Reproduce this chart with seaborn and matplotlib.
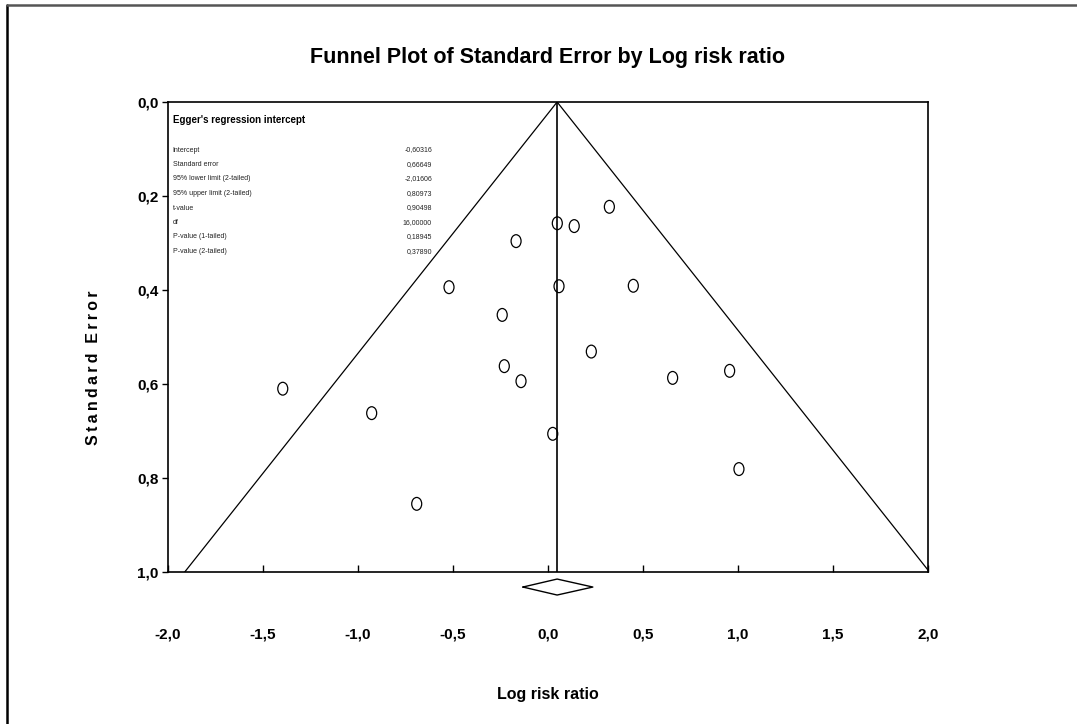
import numpy as np
import pandas as pd
import matplotlib
matplotlib.use("Agg")
import matplotlib.pyplot as plt
import seaborn as sns
from matplotlib.path import Path
from matplotlib.transforms import Affine2D
from matplotlib.lines import Line2D

# ---- data ----
log_rr = [0.323, 0.049, 0.138, -0.168, -0.521, 0.058, 0.449, -0.241, 0.228,
          -0.230, -0.142, 0.656, 0.956, -1.396, -0.928, 0.025, 1.005, -0.691]
std_err = [0.223, 0.258, 0.264, 0.296, 0.394, 0.392, 0.391, 0.453, 0.531,
           0.562, 0.594, 0.587, 0.572, 0.610, 0.662, 0.706, 0.781, 0.855]
pooled = 0.048
pooled_low = -0.132
pooled_high = 0.236

x_ticks = [-2.0, -1.5, -1.0, -0.5, 0.0, 0.5, 1.0, 1.5, 2.0]
x_tick_labels = ["-2,0", "-1,5", "-1,0", "-0,5", "0,0", "0,5", "1,0", "1,5", "2,0"]
y_ticks = [0.0, 0.2, 0.4, 0.6, 0.8, 1.0]
y_tick_labels = ["0,0", "0,2", "0,4", "0,6", "0,8", "1,0"]

egger_labels = ["Intercept", "Standard error", "95% lower limit (2-tailed)",
                "95% upper limit (2-tailed)", "t-value", "df",
                "P-value (1-tailed)", "P-value (2-tailed)"]
egger_values = ["-0,60316", "0,66649", "-2,01606", "0,80973", "0,90498",
                "16,00000", "0,18945", "0,37890"]

df = pd.DataFrame({"Log risk ratio": log_rr, "Standard Error": std_err})

# ---- style ----
sns.set_theme(style="white")
plt.rcParams["font.family"] = ["Liberation Sans", "DejaVu Sans"]
plt.rcParams["text.color"] = "black"
plt.rcParams["axes.labelcolor"] = "black"
plt.rcParams["xtick.color"] = "black"
plt.rcParams["ytick.color"] = "black"

fig = plt.figure(figsize=(10.77, 7.24), dpi=100)
ax = fig.add_axes([168 / 1077, 1 - 572 / 724, 760 / 1077, 470 / 724])

# funnel
z = 1.96
ax.plot([pooled - z * 1.0, pooled, pooled + z * 1.0], [1.0, 0.0, 1.0],
        color="black", lw=0.9)
ax.plot([pooled, pooled], [0.0, 1.0], color="black", lw=1.2)

# ellipse marker
ell = Path.unit_circle().transformed(Affine2D().scale(0.78, 1.0))
sns.scatterplot(data=df, x="Log risk ratio", y="Standard Error", ax=ax,
                marker=ell, s=85, facecolor="none", edgecolor="black",
                linewidth=0.9, zorder=3)

# diamond (below axis)
dy_top, dy_mid, dy_bot = 1.015, 1.032, 1.049
ax.plot([pooled_low, pooled, pooled_high, pooled, pooled_low],
        [dy_mid, dy_top, dy_mid, dy_bot, dy_mid],
        color="black", lw=1.0, clip_on=False)

ax.set_xlim(-2.0, 2.0)
ax.set_ylim(1.0, 0.0)
ax.set_xticks(x_ticks)
ax.set_xticklabels(x_tick_labels)
ax.set_yticks(y_ticks)
ax.set_yticklabels(y_tick_labels)
for lab in ax.get_xticklabels() + ax.get_yticklabels():
    lab.set_fontweight("bold")
    lab.set_fontsize(11)
ax.tick_params(axis="x", direction="in", length=5, width=1, pad=40,
               bottom=True, colors="black")
ax.tick_params(axis="y", direction="out", length=4, width=1, pad=3,
               left=True, colors="black")
for sp in ax.spines.values():
    sp.set_color("black")
    sp.set_linewidth(1.2)

ax.set_xlabel("Log risk ratio", fontsize=11.5, fontweight="bold")
ax.set_ylabel("\u2009".join("Standard") + "\u2009\u2009\u2009" + "\u2009".join("Error"),
              fontsize=11.5, fontweight="bold")
ax.xaxis.set_label_coords(0.5, -0.245)
ax.yaxis.set_label_coords(-0.088, 0.434)

fig.text(548 / 1077, 1 - 58 / 724, "Funnel Plot of Standard Error by Log risk ratio",
         ha="center", va="center", fontsize=15.5, fontweight="bold")

# Egger box text
ax.text(0.006, 1 - 18 / 470, "Egger's regression intercept", transform=ax.transAxes,
        ha="left", va="center", fontsize=7, fontweight="bold")
row_y0 = 48 / 470
row_step = 14.5 / 470
for i, (lab, val) in enumerate(zip(egger_labels, egger_values)):
    yy = 1 - (row_y0 + i * row_step)
    ax.text(0.006, yy, lab, transform=ax.transAxes, ha="left", va="center",
            fontsize=5, color="#222222")
    ax.text(264 / 760, yy, val, transform=ax.transAxes, ha="right", va="center",
            fontsize=5, color="#222222")

# outer frame lines (left and top)
fig.add_artist(Line2D([7 / 1077, 7 / 1077], [0, 1 - 5 / 724], transform=fig.transFigure,
                      color="black", lw=1.8))
fig.add_artist(Line2D([7 / 1077, 1], [1 - 5 / 724, 1 - 5 / 724], transform=fig.transFigure,
                      color="#555555", lw=1.8))

fig.savefig("out.png", dpi=100)
